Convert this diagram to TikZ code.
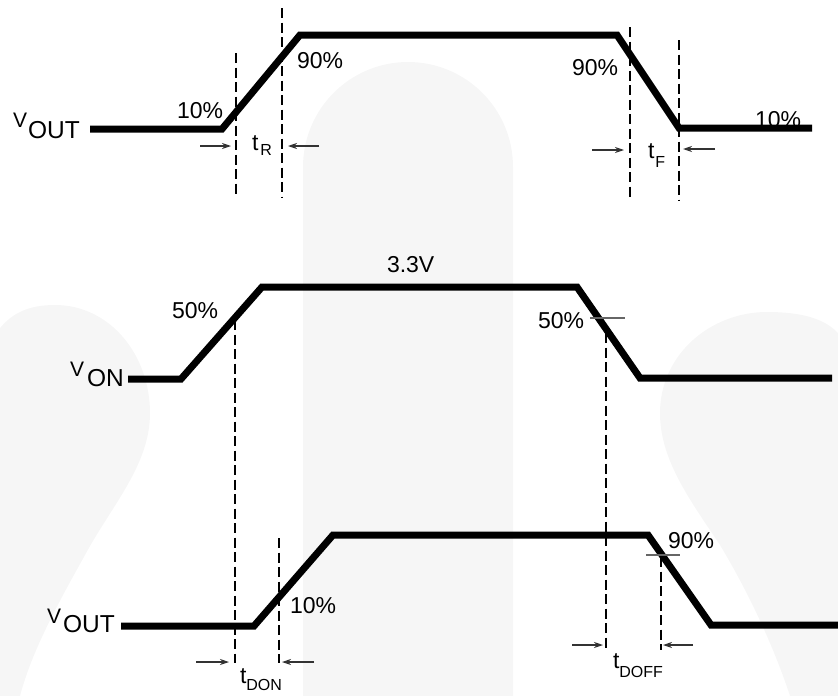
\documentclass[tikz,border=0pt]{standalone}
\usepackage{fontspec}
\setmainfont{Liberation Sans}
\usetikzlibrary{arrows.meta}
\definecolor{wm}{HTML}{F6F6F6}
\newcommand{\bigV}[1]{\raisebox{#1}{\fontsize{21}{21}\selectfont V}}
\newcommand{\subtxt}[2]{\raisebox{-#1}{\fontsize{16}{16}\selectfont #2}}
\begin{document}
\begin{tikzpicture}[x=1pt,y=-1pt,
  wave/.style={line width=7pt, line join=miter},
  guide/.style={line width=1.8pt, dash pattern=on 10pt off 4.5pt},
  dimarrow/.style={line width=1.1pt, draw=black!80, -{Stealth[length=9pt,width=6pt]}},
  tickline/.style={line width=1.3pt, draw=black!60},
  lbl/.style={anchor=base west, inner sep=0pt, outer sep=0pt, font=\fontsize{23}{23}\selectfont},
  siglbl/.style={anchor=base west, inner sep=0pt, outer sep=0pt, font=\fontsize{24.5}{24.5}\selectfont},
  tlbl/.style={anchor=base west, inner sep=0pt, outer sep=0pt, font=\fontsize{23}{23}\selectfont}]
\useasboundingbox (0,0) rectangle (838,696);

% faint background shapes
\fill[wm] (303,696) -- (303,167) .. controls (303,109) and (350,62) .. (408,62)
  .. controls (466,62) and (513,109) .. (513,167) -- (513,696) -- cycle;
\fill[wm] (-5,696) -- (-5,335) .. controls (10,312) and (30,305) .. (55,305)
  .. controls (110,305) and (150,355) .. (150,413)
  .. controls (150,465) and (112,505) .. (85,555)
  .. controls (60,600) and (32,650) .. (20,696) -- cycle;
\fill[wm] (843,696) -- (843,340) .. controls (830,318) and (800,312) .. (767,312)
  .. controls (710,312) and (660,355) .. (660,413)
  .. controls (660,460) and (690,500) .. (720,545)
  .. controls (750,595) and (775,650) .. (790,696) -- cycle;

% ---------- labels ----------
\node[siglbl] (v1) at (13,138) {\bigV{11pt}\kern1pt OUT};
\node[lbl] (p10a) at (177,118) {10\%};
\node[lbl] (p90a) at (297,68) {90\%};
\node[tlbl] (tr) at (252,150) {t\kern2pt\subtxt{5pt}{R}};
\node[lbl] (p90b) at (572,75) {90\%};
\node[lbl] (p10b) at (755,127) {10\%};
\node[tlbl] (tf) at (648,158) {t\kern1pt\subtxt{9pt}{F}};

\node[siglbl] (von) at (70,386) {\bigV{10pt}\kern3pt ON};
\node[lbl] (v33) at (387,272) {3.3V};
\node[lbl] (p50a) at (172,318) {50\%};
\node[lbl] (p50b) at (538,328) {50\%};

\node[siglbl] (v2) at (47,632) {\bigV{9pt}\kern2pt OUT};
\node[lbl] (p10c) at (290,613) {10\%};
\node[lbl] (p90c) at (668,548) {90\%};
\node[tlbl] (tdon) at (240,683) {t\subtxt{7pt}{DON}};
\node[tlbl] (tdoff) at (613,668) {t\subtxt{9pt}{DOFF}};

% ---------- waveform coordinates ----------
\coordinate (a0) at (90,129);  \coordinate (a1) at (222,129);
\coordinate (a2) at (300,35);  \coordinate (a3) at (617,35);
\coordinate (a4) at (679,128); \coordinate (a5) at (812,128);

\coordinate (b0) at (128,379); \coordinate (b1) at (181,379);
\coordinate (b2) at (262,287); \coordinate (b3) at (577,287);
\coordinate (b4) at (640,378); \coordinate (b5) at (832,378);

\coordinate (c0) at (121,626); \coordinate (c1) at (254,626);
\coordinate (c2) at (333,535); \coordinate (c3) at (648,535);
\coordinate (c4) at (711,625); \coordinate (c5) at (838,625);

\draw[wave] (a0) -- (a1) -- (a2) -- (a3) -- (a4) -- (a5);
\draw[wave] (b0) -- (b1) -- (b2) -- (b3) -- (b4) -- (b5);
\draw[wave] (c0) -- (c1) -- (c2) -- (c3) -- (c4) -- (c5);

% ---------- dashed guides ----------
\coordinate (g1t) at (236,53);  \coordinate (g1b) at (236,197);
\coordinate (g2t) at (282,8);   \coordinate (g2b) at (282,197);
\coordinate (g3t) at (630,27);  \coordinate (g3b) at (630,200);
\coordinate (g4t) at (679,40);  \coordinate (g4b) at (679,200);
\coordinate (g5t) at (235,320); \coordinate (g5b) at (235,663);
\coordinate (g6t) at (606,333); \coordinate (g6b) at (606,650);
\coordinate (g7t) at (279,538); \coordinate (g7b) at (279,663);
\coordinate (g8t) at (661,557); \coordinate (g8b) at (661,650);
\foreach \g in {1,...,8} \draw[guide] (g\g t) -- (g\g b);

% ---------- small level ticks ----------
\coordinate (k1a) at (590,318); \coordinate (k1b) at (625,318);
\coordinate (k2a) at (646,555); \coordinate (k2b) at (680,555);
\draw[tickline] (k1a) -- (k1b);
\draw[tickline] (k2a) -- (k2b);

% ---------- dimension arrows ----------
\coordinate (d1s) at (200,146); \coordinate (d1e) at (231,146);
\coordinate (d2s) at (319,146); \coordinate (d2e) at (288,146);
\coordinate (d3s) at (592,150); \coordinate (d3e) at (624,150);
\coordinate (d4s) at (715,149); \coordinate (d4e) at (683,149);
\coordinate (d5s) at (196,662); \coordinate (d5e) at (229,662);
\coordinate (d6s) at (314,662); \coordinate (d6e) at (282,662);
\coordinate (d7s) at (572,645); \coordinate (d7e) at (603,645);
\coordinate (d8s) at (693,645); \coordinate (d8e) at (663,645);
\foreach \d in {1,...,8} \draw[dimarrow] (d\d s) -- (d\d e);
\end{tikzpicture}
\end{document}
